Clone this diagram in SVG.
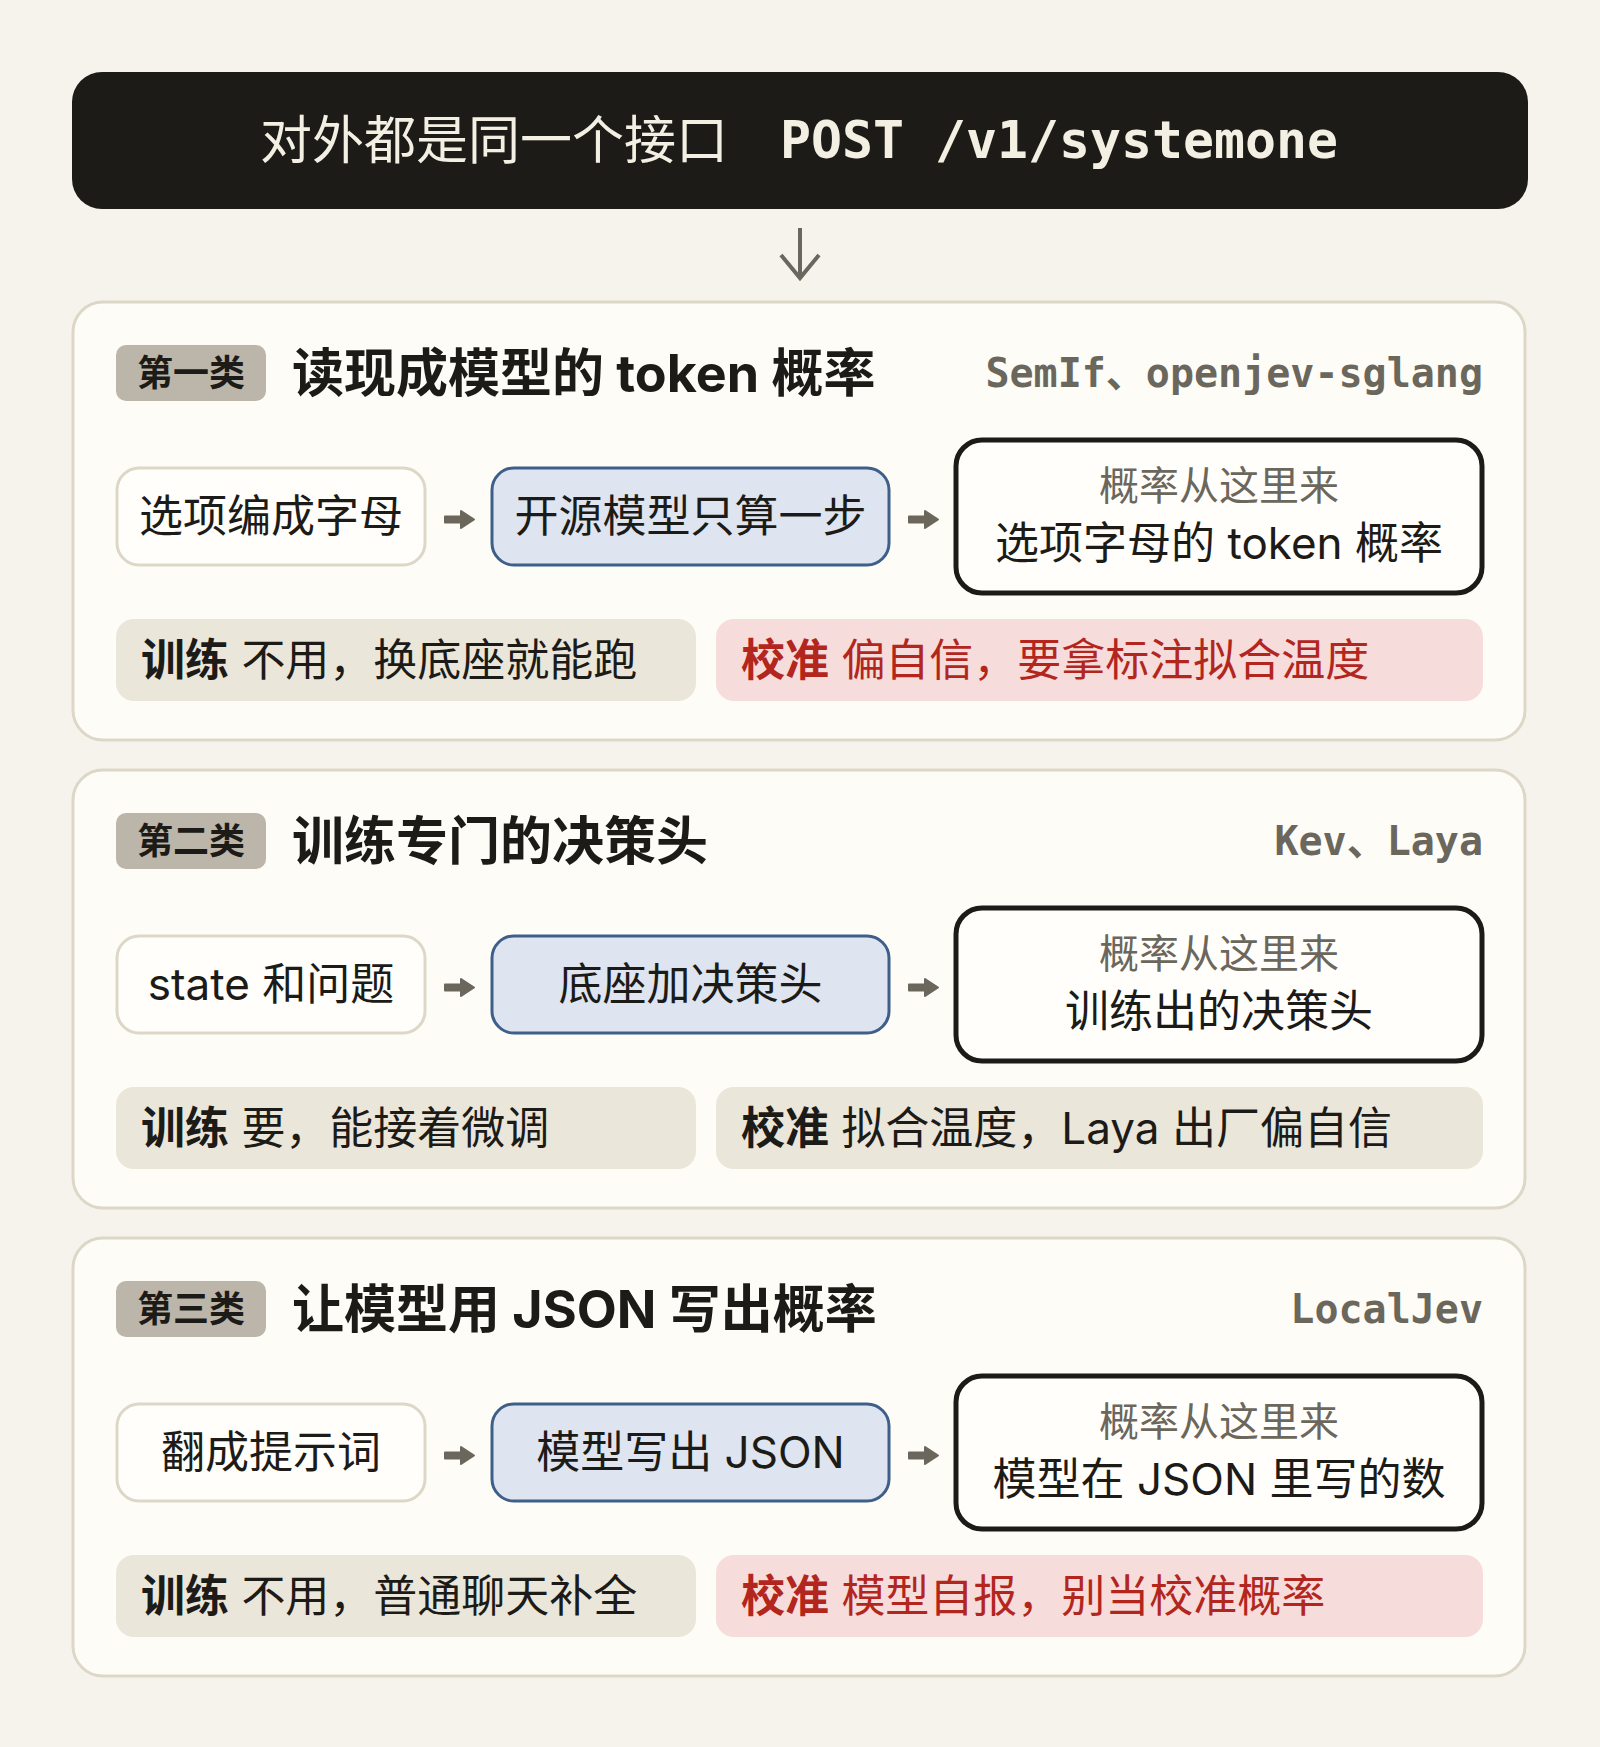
<svg xmlns="http://www.w3.org/2000/svg" width="1600" height="1747" viewBox="0 0 1600 1747">
<style>
.sans{font-family:"Inter","Noto Sans CJK SC","Noto Sans",sans-serif;}
.mono{font-family:"DejaVu Sans Mono","Liberation Mono","Noto Sans CJK SC",monospace;}
.panel{fill:#fdfcf7;stroke:#ddd7c8;stroke-width:3;}
.badge{fill:#bbb6a9;}
.badgeT{font-size:36px;font-weight:700;fill:#1c1b17;text-anchor:middle;}
.title{font-size:52px;font-weight:700;fill:#1c1b17;}
.src{font-size:40px;font-weight:700;fill:#6b675c;text-anchor:end;}
.b1{fill:#fffefa;stroke:#ddd7c8;stroke-width:3;}
.b2{fill:#dee5f0;stroke:#3e5f8a;stroke-width:3;}
.b3{fill:#fffefa;stroke:#1c1b17;stroke-width:5;}
.bt{font-size:44px;fill:#1c1b17;text-anchor:middle;}
.gt{font-size:40px;fill:#6b675c;text-anchor:middle;}
.pillG{fill:#ebe6da;}
.pillR{fill:#f6dcda;}
.pt{font-size:44px;fill:#1c1b17;}
.ptR{font-size:44px;fill:#b3261e;}
.arr{fill:#6b675c;stroke:#6b675c;stroke-width:2;stroke-linejoin:round;}
</style>
<rect x="0" y="0" width="1600" height="1747" fill="#f5f3ec"/>

<g id="header">
<rect x="72" y="72" width="1456" height="137" rx="30" fill="#1c1b17"/>
<text x="260" y="159" class="sans" font-size="52" fill="#f3efe3">对外都是同一个接口</text>
<text x="780" y="158" class="mono" font-size="51.5" font-weight="700" fill="#f3efe3">POST /v1/systemone</text>
</g>

<!-- Panel 1 -->
<g id="panel1">
<rect class="panel" x="73" y="302" width="1452" height="438" rx="30"/>
<g id="p1-badge"><rect class="badge" x="116" y="345" width="150" height="56" rx="10"/><text class="sans badgeT" x="191" y="386">第一类</text></g>
<text class="sans title" x="292" y="392">读现成模型的 token 概率</text>
<text class="mono src" x="1483" y="387">SemIf、openjev-sglang</text>
<g id="p1-n1"><rect class="b1" x="117" y="468" width="308" height="97" rx="22"/><text class="sans bt" x="271" y="532">选项编成字母</text></g>
<g id="p1-n2"><rect class="b2" x="492" y="468" width="397" height="97" rx="22"/><text class="sans bt" x="690.5" y="532">开源模型只算一步</text></g>
<g id="p1-n3"><rect class="b3" x="956" y="440" width="526" height="153" rx="26"/><text class="sans gt" x="1219" y="500">概率从这里来</text><text class="sans bt" x="1219" y="559">选项字母的 token 概率</text></g>
<g id="p1-train"><rect class="pillG" x="116" y="619" width="580" height="82" rx="18"/><text class="sans pt" x="141" y="676"><tspan font-weight="700">训练</tspan> 不用，换底座就能跑</text></g>
<g id="p1-calib"><rect class="pillR" x="716" y="619" width="767" height="82" rx="18"/><text class="sans ptR" x="741" y="676"><tspan font-weight="700">校准</tspan> 偏自信，要拿标注拟合温度</text></g>
</g>

<!-- Panel 2 -->
<g id="panel2" transform="translate(0,468)">
<rect class="panel" x="73" y="302" width="1452" height="438" rx="30"/>
<g id="p2-badge"><rect class="badge" x="116" y="345" width="150" height="56" rx="10"/><text class="sans badgeT" x="191" y="386">第二类</text></g>
<text class="sans title" x="292" y="392">训练专门的决策头</text>
<text class="mono src" x="1483" y="387">Kev、Laya</text>
<g id="p2-n1"><rect class="b1" x="117" y="468" width="308" height="97" rx="22"/><text class="sans bt" x="271" y="532">state 和问题</text></g>
<g id="p2-n2"><rect class="b2" x="492" y="468" width="397" height="97" rx="22"/><text class="sans bt" x="690.5" y="532">底座加决策头</text></g>
<g id="p2-n3"><rect class="b3" x="956" y="440" width="526" height="153" rx="26"/><text class="sans gt" x="1219" y="500">概率从这里来</text><text class="sans bt" x="1219" y="559">训练出的决策头</text></g>
<g id="p2-train"><rect class="pillG" x="116" y="619" width="580" height="82" rx="18"/><text class="sans pt" x="141" y="676"><tspan font-weight="700">训练</tspan> 要，能接着微调</text></g>
<g id="p2-calib"><rect class="pillG" x="716" y="619" width="767" height="82" rx="18"/><text class="sans pt" x="741" y="676"><tspan font-weight="700">校准</tspan> 拟合温度，Laya 出厂偏自信</text></g>
</g>

<!-- Panel 3 -->
<g id="panel3" transform="translate(0,936)">
<rect class="panel" x="73" y="302" width="1452" height="438" rx="30"/>
<g id="p3-badge"><rect class="badge" x="116" y="345" width="150" height="56" rx="10"/><text class="sans badgeT" x="191" y="386">第三类</text></g>
<text class="sans title" x="292" y="392">让模型用 JSON 写出概率</text>
<text class="mono src" x="1483" y="387">LocalJev</text>
<g id="p3-n1"><rect class="b1" x="117" y="468" width="308" height="97" rx="22"/><text class="sans bt" x="271" y="532">翻成提示词</text></g>
<g id="p3-n2"><rect class="b2" x="492" y="468" width="397" height="97" rx="22"/><text class="sans bt" x="690.5" y="532">模型写出 JSON</text></g>
<g id="p3-n3"><rect class="b3" x="956" y="440" width="526" height="153" rx="26"/><text class="sans gt" x="1219" y="500">概率从这里来</text><text class="sans bt" x="1219" y="559">模型在 JSON 里写的数</text></g>
<g id="p3-train"><rect class="pillG" x="116" y="619" width="580" height="82" rx="18"/><text class="sans pt" x="141" y="676"><tspan font-weight="700">训练</tspan> 不用，普通聊天补全</text></g>
<g id="p3-calib"><rect class="pillR" x="716" y="619" width="767" height="82" rx="18"/><text class="sans ptR" x="741" y="676"><tspan font-weight="700">校准</tspan> 模型自报，别当校准概率</text></g>
</g>

<g id="connectors">
<line x1="800" y1="228" x2="800" y2="277" stroke="#6b675c" stroke-width="4"/>
<polyline points="781,255 800,278 819,255" fill="none" stroke="#6b675c" stroke-width="4"/>
<g id="arrows-p1">
<path class="arr" d="M445 516.5 H464 V522.5 H445 Z M461 511 L474 519.5 L461 528 Z"/>
<path class="arr" d="M909 516.5 H928 V522.5 H909 Z M925 511 L938 519.5 L925 528 Z"/>
</g>
<g id="arrows-p2" transform="translate(0,468)">
<path class="arr" d="M445 516.5 H464 V522.5 H445 Z M461 511 L474 519.5 L461 528 Z"/>
<path class="arr" d="M909 516.5 H928 V522.5 H909 Z M925 511 L938 519.5 L925 528 Z"/>
</g>
<g id="arrows-p3" transform="translate(0,936)">
<path class="arr" d="M445 516.5 H464 V522.5 H445 Z M461 511 L474 519.5 L461 528 Z"/>
<path class="arr" d="M909 516.5 H928 V522.5 H909 Z M925 511 L938 519.5 L925 528 Z"/>
</g>
</g>
</svg>
